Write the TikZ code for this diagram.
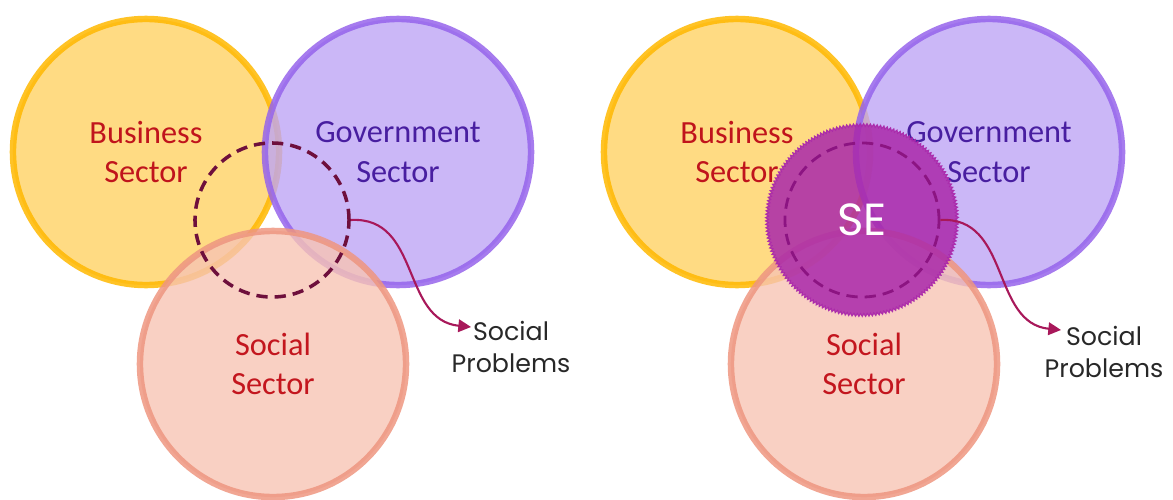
\documentclass[tikz,border=0pt]{standalone}
\usepackage{fontspec}
\setmainfont{Carlito}
\newfontfamily\gothic{Poppins}
\usetikzlibrary{calc,arrows.meta,decorations.pathmorphing}
\definecolor{bizfill}{RGB}{255,210,100}
\definecolor{bizline}{RGB}{255,184,0}
\definecolor{biztext}{RGB}{192,20,28}
\definecolor{govfill}{RGB}{190,165,245}
\definecolor{govline}{RGB}{150,100,235}
\definecolor{govtext}{RGB}{72,30,160}
\definecolor{socfill}{RGB}{247,196,180}
\definecolor{socline}{RGB}{238,150,128}
\definecolor{soctext}{RGB}{195,22,30}
\definecolor{ringcol}{RGB}{110,15,60}
\definecolor{sering}{RGB}{140,20,130}
\definecolor{sefill}{RGB}{170,40,170}
\definecolor{linkcol}{RGB}{168,24,90}
\definecolor{probcol}{RGB}{40,40,40}
\tikzstyle{sector} = [circle, line width=4.6pt, minimum size=6.65cm, fill opacity=0.8, draw opacity=0.85, text opacity=1, align=center, font=\fontsize{23}{28}\selectfont]
\tikzstyle{ring} = [circle, draw, dash pattern=on 8pt off 5pt, line width=2.5pt, minimum size=3.85cm]
\tikzstyle{link} = [draw=linkcol, line width=1.5pt, -{Triangle[length=9pt,width=9pt]}]
\tikzstyle{problem} = [align=center, inner sep=0pt, text=probcol, font=\gothic\fontsize{18}{23}\selectfont]

\begin{document}
\begin{tikzpicture}[x=0.025cm, y=-0.025cm]
        \useasboundingbox (0,0) rectangle (1173,500);

        % left diagram
        \node (B1) [sector, fill=bizfill, draw=bizline, text=biztext] at (146,152) {Business\\Sector};
        \node (G1) [sector, fill=govfill, draw=govline, text=govtext] at (398,152) {Government\\Sector};
        \node (S1) [sector, fill=socfill, draw=socline, text=soctext] at (273,364) {Social\\Sector};
        \node (R1) [ring, draw=ringcol] at (272,220) {};

        \node (P1) [problem] at (511,347) {Social\\Problems};
        \coordinate (T1) at ($(P1)+(-40,-20)$);
        \draw[link] (R1.east) .. controls +(70,-4) and +(-70,-7) .. (T1);

        % right diagram
        \node (B2) [sector, fill=bizfill, draw=bizline, text=biztext] at (737,152) {Business\\Sector};
        \node (G2) [sector, fill=govfill, draw=govline, text=govtext] at (989,152) {Government\\Sector};
        \node (S2) [sector, fill=socfill, draw=socline, text=soctext] at (864,364) {Social\\Sector};
        \node (SE) [circle, minimum size=4.75cm, fill=sefill, fill opacity=0.85, draw=sefill, draw opacity=0.9, text opacity=1, line width=0.8pt, decorate, decoration={zigzag, segment length=2.4pt, amplitude=1pt}, text=white, font=\gothic\fontsize{32}{36}\selectfont] at (862,220) {SE};
        \node (R2) [ring, draw=sering, line width=2pt] at (862,220) {};

        \node (P2) [problem] at (1104,352) {Social\\Problems};
        \coordinate (T2) at ($(P2)+(-43,-22)$);
        \draw[link] (R2.east) .. controls +(70,-4) and +(-70,-7) .. (T2);

    \end{tikzpicture}
\end{document}
